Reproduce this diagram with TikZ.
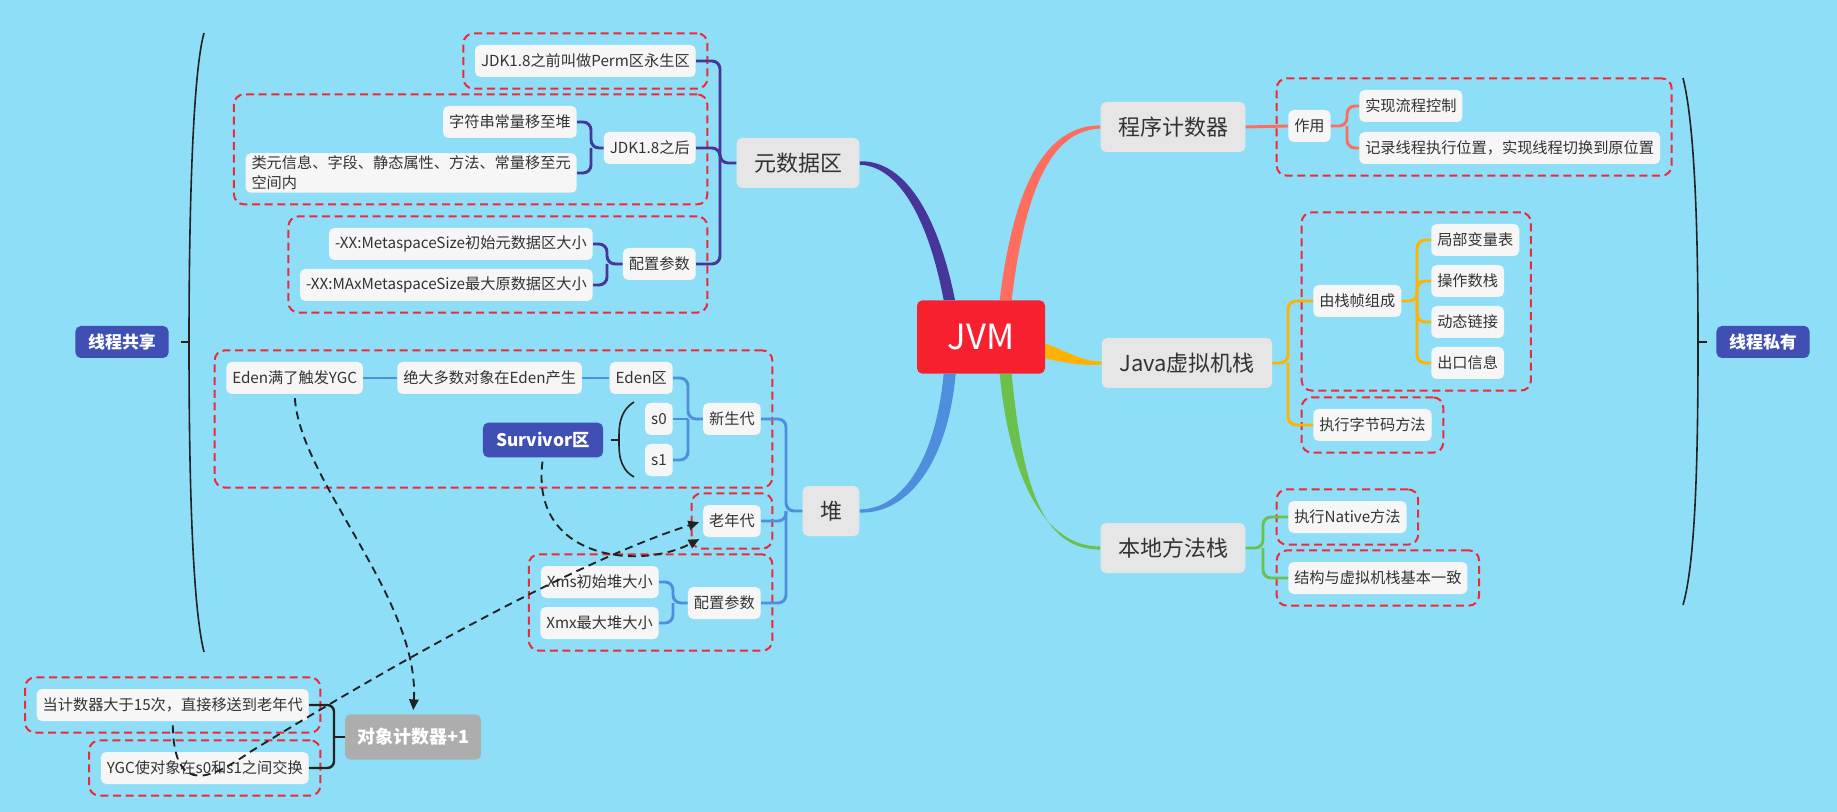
\documentclass[tikz,border=0pt]{standalone}
\usepackage{fontspec}
\newfontfamily\cjk{Noto Sans CJK SC}
\usetikzlibrary{fit,backgrounds,arrows.meta}
\definecolor{bgc}{HTML}{8EDEF8}
\definecolor{txt}{HTML}{333333}
\definecolor{leafc}{HTML}{F6F6F6}
\definecolor{topc}{HTML}{E6E6E6}
\definecolor{tagc}{HTML}{3F4FB3}
\definecolor{cntc}{HTML}{ADADAD}
\definecolor{jvmc}{HTML}{F7202F}
\definecolor{grpc}{HTML}{EE2A3A}
\definecolor{metac}{HTML}{46369A}
\definecolor{pcc}{HTML}{FF6D5E}
\definecolor{jvsc}{HTML}{FFB300}
\definecolor{heapc}{HTML}{4F8EDC}
\definecolor{nativec}{HTML}{6CC14D}
\definecolor{arrc}{HTML}{222222}

\begin{document}
\begin{tikzpicture}[x=0.75pt, y=-0.75pt,
    every node/.style={font=\cjk, text=txt},
    leaf/.style={fill=leafc, rounded corners=4pt, minimum height=24pt, inner xsep=4.5pt, inner ysep=2pt,
        font=\cjk\fontsize{11.4}{15}\selectfont},
    topic/.style={fill=topc, rounded corners=4pt, minimum height=37.5pt, inner xsep=13pt,
        font=\cjk\fontsize{16.5}{20}\selectfont},
    tag/.style={fill=tagc, rounded corners=4pt, text=white, minimum height=24pt, inner xsep=9.5pt,
        font=\cjk\bfseries\fontsize{12.7}{15}\selectfont},
    grp/.style={draw=grpc, line width=1.5pt, dash pattern=on 6pt off 3.5pt, rounded corners=7.5pt, inner sep=8.5pt},
    metaln/.style={draw=metac, line width=2.2pt, rounded corners=6pt},
    heapln/.style={draw=heapc, line width=2.2pt, rounded corners=6pt},
    pcln/.style={draw=pcc, line width=2.2pt, rounded corners=6pt},
    jvsln/.style={draw=jvsc, line width=2.2pt, rounded corners=6pt},
    nativeln/.style={draw=nativec, line width=2.2pt, rounded corners=6pt},
    brace/.style={draw=arrc, line width=1.2pt},
    dasharrow/.style={draw=arrc, line width=1.4pt, dash pattern=on 6pt off 4pt,
        -{Triangle[length=8pt,width=7pt]}, shorten <=3pt, shorten >=3pt}]

\useasboundingbox (0,0) rectangle (1837,812);

% centre
\node[fill=jvmc, rounded corners=4pt, minimum width=96pt, minimum height=55pt, text=white,
    font=\cjk\fontsize{26}{30}\selectfont] (jvm) at (981,337) {JVM};

% 元数据区
\node[topic] (meta) at (798,163) {元数据区};
\node[leaf, anchor=east] (perm) at (696,61) {JDK1.8之前叫做Perm区永生区};
\node[leaf, anchor=east] (after) at (696,148) {JDK1.8之后};
\node[leaf, anchor=east] (str) at (577,122) {字符串常量移至堆};
\node[leaf, anchor=east, align=left] (cls) at (577,173) {类元信息、字段、静态属性、方法、常量移至元\\空间内};
\node[leaf, anchor=east] (metacfg) at (696,264) {配置参数};
\node[leaf, anchor=east] (msize) at (593,244) {-XX:MetaspaceSize初始元数据区大小};
\node[leaf, anchor=east] (mxsize) at (593,285) {-XX:MAxMetaspaceSize最大原数据区大小};

% 堆
\node[topic] (heap) at (831,511) {堆};
\node[leaf, anchor=west] (ygc) at (226,378) {Eden满了触发YGC};
\node[leaf, anchor=west] (most) at (397,378) {绝大多数对象在Eden产生};
\node[leaf, anchor=east] (eden) at (673,378) {Eden区};
\node[leaf, anchor=east] (s0) at (673,419) {s0};
\node[leaf, anchor=east] (s1) at (673,460) {s1};
\node[tag, minimum height=26pt, inner xsep=10pt, font=\cjk\bfseries\fontsize{13}{15}\selectfont] (surv) at (543,440) {Survivor区};
\node[leaf, anchor=east] (young) at (761,419) {新生代};
\node[leaf, anchor=east] (old) at (761,521) {老年代};
\node[leaf, anchor=east] (heapcfg) at (761,603) {配置参数};
\node[leaf, anchor=east] (xms) at (659,582) {Xms初始堆大小};
\node[leaf, anchor=east] (xmx) at (659,623) {Xmx最大堆大小};

% 对象计数器
\node[fill=cntc, rounded corners=4pt, text=white, minimum height=34pt, inner xsep=9pt,
    font=\cjk\bfseries\fontsize{13.5}{16}\selectfont] (counter) at (413,737) {对象计数器+1};
\node[leaf, anchor=east] (cnt15) at (309,705) {当计数器大于15次，直接移送到老年代};
\node[leaf, anchor=east] (swap) at (309,768) {YGC使对象在s0和s1之间交换};

% 程序计数器
\node[topic] (pc) at (1173,127) {程序计数器};
\node[leaf, anchor=west] (role) at (1288,126) {作用};
\node[leaf, anchor=west] (flow) at (1359,106) {实现流程控制};
\node[leaf, anchor=west] (rec) at (1359,148) {记录线程执行位置，实现线程切换到原位置};

% Java虚拟机栈
\node[topic] (jvs) at (1187,363) {Java虚拟机栈};
\node[leaf, anchor=west] (frame) at (1313,301) {由栈帧组成};
\node[leaf, anchor=west] (lvt) at (1431,240) {局部变量表};
\node[leaf, anchor=west] (ops) at (1431,281) {操作数栈};
\node[leaf, anchor=west] (dyn) at (1431,322) {动态链接};
\node[leaf, anchor=west] (exit) at (1431,363) {出口信息};
\node[leaf, anchor=west] (bytec) at (1313,425) {执行字节码方法};

% 本地方法栈
\node[topic] (nms) at (1173,548) {本地方法栈};
\node[leaf, anchor=west] (natv) at (1288,517) {执行Native方法};
\node[leaf, anchor=west] (same) at (1288,578) {结构与虚拟机栈基本一致};

% side tags
\node[tag] (share) at (122,342) {线程共享};
\node[tag] (priv) at (1763,342) {线程私有};

% dashed groups
\node[grp, fit=(perm)] {};
\node[grp, fit=(str)(cls)(after)] {};
\node[grp, fit=(msize)(mxsize)(metacfg)] {};
\node[grp, fit=(ygc)(eden)(young)(s1)] {};
\node[grp, fit=(old)] {};
\node[grp, fit=(xms)(xmx)(heapcfg)] {};
\node[grp, fit=(cnt15)] {};
\node[grp, fit=(swap)] {};
\node[grp, fit=(role)(flow)(rec)] {};
\node[grp, fit=(frame)(lvt)(exit)] {};
\node[grp, fit=(bytec)] {};
\node[grp, fit=(natv)] {};
\node[grp, fit=(same)] {};

% trunks
\coordinate (metaT) at (720,163);
\coordinate (afterT) at (591,148);
\coordinate (mcfgT) at (607,264);
\coordinate (youngT) at (688,419);
\coordinate (heapT) at (786,511);
\coordinate (hcfgT) at (673,603);
\coordinate (roleT) at (1347,126);
\coordinate (jvsT) at (1288,363);
\coordinate (frameT) at (1417,301);
\coordinate (nmsT) at (1263,548);

\draw[metaln] (perm.east) -| (metaT) -- (meta.west);
\draw[metaln] (after.east) -| (metaT);
\draw[metaln] (metacfg.east) -| (metaT);
\draw[metaln] (str.east) -| (afterT) -- (after.west);
\draw[metaln] (cls.east) -| (afterT);
\draw[metaln] (msize.east) -| (mcfgT) -- (metacfg.west);
\draw[metaln] (mxsize.east) -| (mcfgT);

\draw[heapln] (ygc) -- (most);
\draw[heapln] (most) -- (eden);
\draw[heapln] (eden.east) -| (youngT) -- (young.west);
\draw[heapln] (s0.east) -- (youngT);
\draw[heapln] (s1.east) -| (youngT);
\draw[heapln] (young.east) -| (heapT) -- (heap.west);
\draw[heapln] (old.east) -| (heapT);
\draw[heapln] (heapcfg.east) -| (heapT);
\draw[heapln] (xms.east) -| (hcfgT) -- (heapcfg.west);
\draw[heapln] (xmx.east) -| (hcfgT);

\draw[pcln] (pc.east) -- (role.west);
\draw[pcln] (flow.west) -| (roleT) -- (role.east);
\draw[pcln] (rec.west) -| (roleT);

\draw[jvsln] (frame.west) -| (jvsT) -- (jvs.east);
\draw[jvsln] (bytec.west) -| (jvsT);
\draw[jvsln] (lvt.west) -| (frameT) -- (frame.east);
\draw[jvsln] (ops.west) -| (frameT);
\draw[jvsln] (dyn.west) -| (frameT);
\draw[jvsln] (exit.west) -| (frameT);

\draw[nativeln] (natv.west) -| (nmsT) -- (nms.east);
\draw[nativeln] (same.west) -| (nmsT);

% braces
\draw[brace] (204,33) .. controls (191,80) and (189,250) .. (189,342) .. controls (189,450) and (191,600) .. (204,652);
\draw[brace] (189,342) -- (181,342);
\draw[brace] (1683,78) .. controls (1696,130) and (1698,250) .. (1698,342) .. controls (1698,450) and (1696,560) .. (1683,605);
\draw[brace] (1698,342) -- (1707,342);
\draw[brace] (634,402) .. controls (618,412) and (619,430) .. (619,440) .. controls (619,450) and (618,468) .. (634,477);
\draw[brace] (619,440) -- (611,440);
\draw[brace, line width=1.8pt, rounded corners=5pt] (cnt15.east) -| (334,768) -- (swap.east);
\draw[brace, line width=1.8pt] (334,737) -- (counter.west);

% dashed arrows
\draw[dasharrow] (ygc.south) .. controls (300,480) and (420,600) .. (counter.north);
\draw[dasharrow] (surv.south) .. controls (530,560) and (640,570) .. (old.south west);
\draw[dasharrow] (cnt15.south) .. controls (174,800) and (215,776) .. (250,752) .. controls (400,660) and (580,560) .. (old.west);

\begin{scope}[on background layer]
\fill[bgc] (0,0) rectangle (1837,812);
\fill[metac] ([xshift=-28pt]jvm.north) .. controls (929,222) and (900,166) .. ([yshift=-1.3pt]meta.east)
    -- ([yshift=1.3pt]meta.east) .. controls (905,160) and (938,215) .. ([xshift=-19.5pt]jvm.north) -- cycle;
\fill[pcc] ([xshift=14pt]jvm.north) .. controls (1015,175) and (1050,125.5) .. ([yshift=1.2pt]pc.west)
    -- ([yshift=-1.2pt]pc.west) .. controls (1055,130) and (1026,180) .. ([xshift=23pt]jvm.north) -- cycle;
\fill[jvsc] ([yshift=-5pt]jvm.east) .. controls (1065,350) and (1080,361.5) .. ([yshift=1.2pt]jvs.west)
    -- ([yshift=-1.2pt]jvs.west) .. controls (1078,366) and (1062,362) .. ([yshift=-16pt]jvm.east) -- cycle;
\fill[heapc] ([xshift=-28pt]jvm.south) .. controls (936,455) and (905,509) .. ([yshift=1.2pt]heap.east)
    -- ([yshift=-1.2pt]heap.east) .. controls (910,514) and (948,460) .. ([xshift=-19pt]jvm.south) -- cycle;
\fill[nativec] ([xshift=14pt]jvm.south) .. controls (1010,480) and (1045,547) .. ([yshift=1.2pt]nms.west)
    -- ([yshift=-1.2pt]nms.west) .. controls (1040,550) and (1022,480) .. ([xshift=23pt]jvm.south) -- cycle;
\end{scope}
\end{tikzpicture}
\end{document}
